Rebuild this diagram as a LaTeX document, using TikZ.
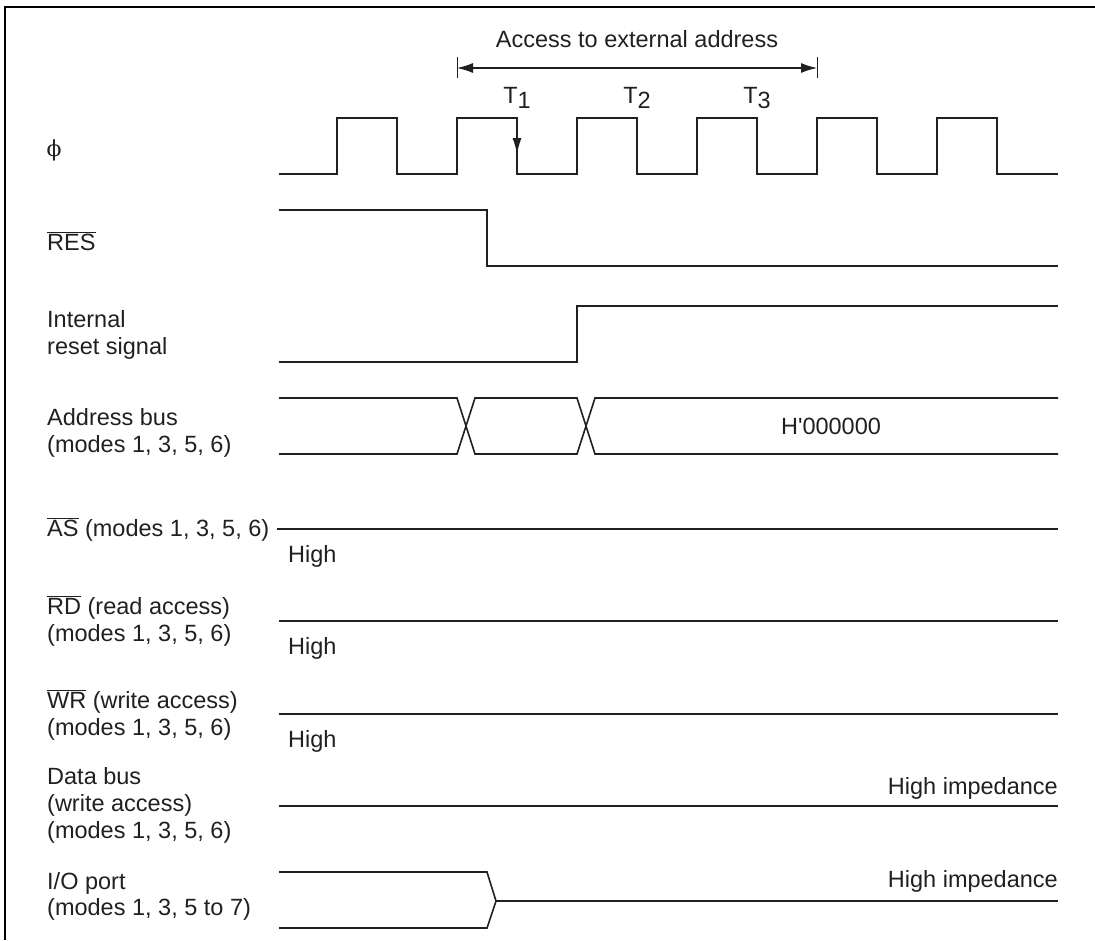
\documentclass[tikz,border=0pt]{standalone}
\usepackage{fontspec}
\setmainfont{Liberation Sans}
\newfontfamily\phifont{DejaVu Serif}
\usetikzlibrary{arrows.meta}
\newcommand\ovl[1]{$\overline{\mbox{#1}}$}
\newcommand\fs{\fontsize{23.5}{27}\selectfont}
\definecolor{ink}{HTML}{231F20}
\begin{document}
\begin{tikzpicture}[x=1pt,y=-1pt,
  sig/.style={line width=1.6pt, draw=ink, line join=miter},
  lbl/.style={anchor=base west, inner sep=0pt, font=\fs, text=ink},
  rlbl/.style={anchor=base east, inner sep=0pt, font=\fs, text=ink},
  clbl/.style={anchor=base, inner sep=0pt, font=\fs, text=ink},
  frameline/.style={line width=2.5pt, draw=black}]
\useasboundingbox (0,0) rectangle (1095,940);
% frame
\draw[frameline] (5,940) -- (5,7) -- (1095,7);

% access range
\coordinate (accL) at (457,68);
\coordinate (accR) at (817,68);
\draw[line width=1pt, draw=ink] (457,57) -- (457,78) (817,57) -- (817,78);
\draw[line width=1.2pt, draw=ink, {Latex[length=16pt,width=10pt]}-{Latex[length=16pt,width=10pt]}] (accL) -- (accR);
\node[clbl] (acc) at (637,47) {Access to external address};
\node[clbl] (t1) at (517,103) {T\raisebox{-5pt}{1}};
\node[clbl] (t2) at (637,103) {T\raisebox{-5pt}{2}};
\node[clbl] (t3) at (757,103) {T\raisebox{-5pt}{3}};

% clock
\node[inner sep=0pt, font={\fontsize{22}{24}\phifont}, text=ink] (phi) at (54,150) {ϕ};
\draw[sig] (279,174) -| (337,118) -| (397,174) -| (457,118) -| (517,174) -| (577,118) -| (637,174) -| (697,118) -| (757,174) -| (817,118) -| (877,174) -| (937,118) -| (997,174) -- (1058,174);
\coordinate (arrS) at (517,118);
\coordinate (arrE) at (517,154);
\draw[line width=1.2pt, draw=ink, -{Latex[length=16pt,width=9pt]}] (arrS) -- (arrE);

% RES
\node[lbl] (res) at (47,250) {\ovl{RES}};
\draw[sig] (279,210) -| (487,266) -- (1058,266);

% internal reset
\node[lbl] (int1) at (47,327) {Internal};
\node[lbl] (int2) at (47,354) {reset signal};
\draw[sig] (279,362) -| (577,306) -- (1058,306);

% address bus
\node[lbl] (ad1) at (47,425) {Address bus};
\node[lbl] (ad2) at (47,452) {(modes 1, 3, 5, 6)};
\draw[sig] (279,398) -- (457,398) -- (475,454) -- (577,454) -- (595,398) -- (1058,398);
\draw[sig] (279,454) -- (457,454) -- (475,398) -- (577,398) -- (595,454) -- (1058,454);
\node[clbl] (addrval) at (831,434) {H\textquotesingle 000000};

% AS
\node[lbl] (as) at (47,536) {\ovl{AS} (modes 1, 3, 5, 6)};
\draw[sig] (277,529) -- (1058,529);
\node[lbl] (ash) at (288,562) {High};

% RD
\node[lbl] (rd1) at (47,614) {\ovl{RD} (read access)};
\node[lbl] (rd2) at (47,641) {(modes 1, 3, 5, 6)};
\draw[sig] (279,621) -- (1058,621);
\node[lbl] (rdh) at (288,654) {High};

% WR
\node[lbl] (wr1) at (47,708) {\ovl{WR} (write access)};
\node[lbl] (wr2) at (47,735) {(modes 1, 3, 5, 6)};
\draw[sig] (279,714) -- (1058,714);
\node[lbl] (wrh) at (288,747) {High};

% data bus
\node[lbl] (db1) at (47,784) {Data bus};
\node[lbl] (db2) at (47,811) {(write access)};
\node[lbl] (db3) at (47,838) {(modes 1, 3, 5, 6)};
\draw[sig] (279,806) -- (1058,806);
\node[rlbl] (dbh) at (1058,794) {High impedance};

% I/O port
\node[lbl] (io1) at (47,889) {I/O port};
\node[lbl] (io2) at (47,915) {(modes 1, 3, 5 to 7)};
\draw[sig] (279,872) -- (487,872) -- (496,901) -- (487,928) -- (279,928);
\draw[sig] (496,901) -- (1058,901);
\node[rlbl] (ioh) at (1058,887) {High impedance};
\end{tikzpicture}
\end{document}
